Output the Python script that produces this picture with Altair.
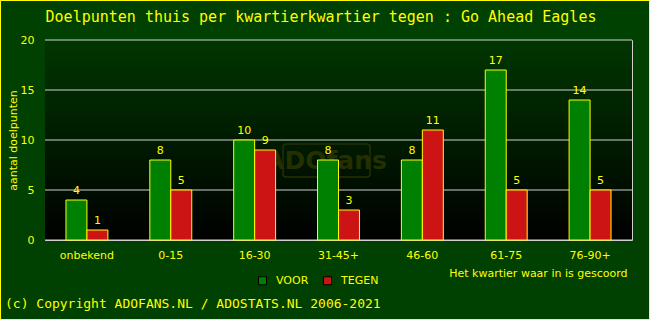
import altair as alt
import pandas as pd

categories = ["onbekend", "0-15", "16-30", "31-45+", "46-60", "61-75", "76-90+"]
voor = [4, 8, 10, 8, 8, 17, 14]
tegen = [1, 5, 9, 3, 11, 5, 5]
series = ["VOOR", "TEGEN"]
colors = ["#008000", "#CC1414"]
grid_values = [0, 5, 10, 15, 20]
title_text = "Doelpunten thuis per kwartierkwartier tegen : Go Ahead Eagles"
copyright_text = "(c) Copyright ADOFANS.NL / ADOSTATS.NL 2006-2021"

rows = []
for c, v, t in zip(categories, voor, tegen):
    rows.append({"kwartier": c, "soort": "VOOR", "aantal": v})
    rows.append({"kwartier": c, "soort": "TEGEN", "aantal": t})
df = pd.DataFrame(rows)

YEL = "#FFFF00"
FONT = "DejaVu Sans"
MONO = "DejaVu Sans Mono"

W, H = 587, 200

yscale = alt.Scale(domain=[0, 20], nice=False)
yaxis = alt.Axis(title="aantal doelpunten", values=grid_values,
                 ticks=False, domain=False, grid=False, labelPadding=11,
                 labelColor=YEL, labelFont=FONT, labelFontSize=11,
                 titleColor=YEL, titleFont=FONT, titleFontSize=11,
                 titleFontWeight="normal", titleX=-32, titleY=100,
                 titleAlign="center", titleBaseline="middle")

xenc = alt.X("kwartier:N", sort=categories,
             scale=alt.Scale(paddingInner=0.5, paddingOuter=0.25),
             axis=alt.Axis(title="Het kwartier waar in is gescoord", labelAngle=0,
                           ticks=False, domain=False, grid=False, labelPadding=9,
                           labelColor=YEL, labelFont=FONT, labelFontSize=11,
                           titleColor=YEL, titleFont=FONT, titleFontSize=11,
                           titleFontWeight="normal", titleAnchor="end",
                           titleAlign="right", titleBaseline="middle",
                           titleX=582, titleY=33))
xoff = alt.XOffset("soort:N", sort=series, scale=alt.Scale(paddingInner=0, paddingOuter=0))

bg = alt.Chart(pd.DataFrame({"a": [0]})).mark_rect(
    color=alt.Gradient(gradient="linear", x1=0, y1=0, x2=0, y2=1,
                       stops=[alt.GradientStop(offset=0, color="#003600"),
                              alt.GradientStop(offset=1, color="#000000")])).encode(
    x=alt.value(0), x2=alt.value(W), y=alt.value(0), y2=alt.value(H))

grid = alt.Chart(pd.DataFrame({"aantal": grid_values})).mark_rule(
    color="#D0D0D0", strokeWidth=1).encode(
    y=alt.Y("aantal:Q", scale=yscale, axis=yaxis))

wm_box = alt.Chart(pd.DataFrame({"a": [0]})).mark_rect(
    fill=None, stroke="#243000", strokeWidth=1.5, cornerRadius=3).encode(
    x=alt.value(238), x2=alt.value(325), y=alt.value(104), y2=alt.value(137))
watermark = alt.Chart(pd.DataFrame({"t": ["ADOfans"]})).mark_text(
    color="#243000", font=FONT, fontSize=25, fontWeight="bold").encode(
    x=alt.value(281), y=alt.value(121), text="t:N")

bars = alt.Chart(df).mark_bar(stroke=YEL, strokeWidth=1).encode(
    x=xenc, xOffset=xoff, y=alt.Y("aantal:Q", scale=yscale, axis=yaxis),
    color=alt.Color("soort:N", sort=series,
                    scale=alt.Scale(domain=series, range=colors),
                    legend=alt.Legend(title=None, orient="none", legendX=212, legendY=235,
                                      direction="horizontal", symbolType="square",
                                      symbolSize=64, symbolStrokeColor="#000000",
                                      symbolStrokeWidth=1, symbolOpacity=1,
                                      labelColor=YEL, labelFont=FONT, labelFontSize=11,
                                      labelOffset=8, columnPadding=12)),
)

labels = alt.Chart(df).mark_text(color=YEL, font=FONT, fontSize=11,
                                 baseline="bottom", dy=-4).encode(
    x=alt.X("kwartier:N", sort=categories), xOffset=alt.XOffset("soort:N", sort=series),
    y=alt.Y("aantal:Q", scale=yscale), text="aantal:Q")

title_mark = alt.Chart(pd.DataFrame({"t": [title_text]})).mark_text(
    color=YEL, font=MONO, fontSize=15, align="center", baseline="middle").encode(
    x=alt.value(276), y=alt.value(-23), text="t:N")

copyright_mark = alt.Chart(pd.DataFrame({"t": [copyright_text]})).mark_text(
    color=YEL, font=MONO, fontSize=13, align="left", baseline="middle").encode(
    x=alt.value(-40), y=alt.value(264), text="t:N")

border = alt.Chart(pd.DataFrame({"a": [0]})).mark_rect(
    fill=None, stroke=YEL, strokeWidth=2).encode(
    x=alt.value(-45), x2=alt.value(605), y=alt.value(-40), y2=alt.value(280))

chart = alt.layer(bg, grid, wm_box, watermark, bars, labels, title_mark,
                  copyright_mark, border).properties(
    width=W, height=H,
    padding={"left": 45, "top": 40, "right": 18, "bottom": 80},
    autosize=alt.AutoSizeParams(type="none"),
    background="#004000",
).configure_view(
    stroke="#D0D0D0", strokeWidth=1,
)

chart.save("out.html", embed_options={"renderer": "svg", "actions": False})
